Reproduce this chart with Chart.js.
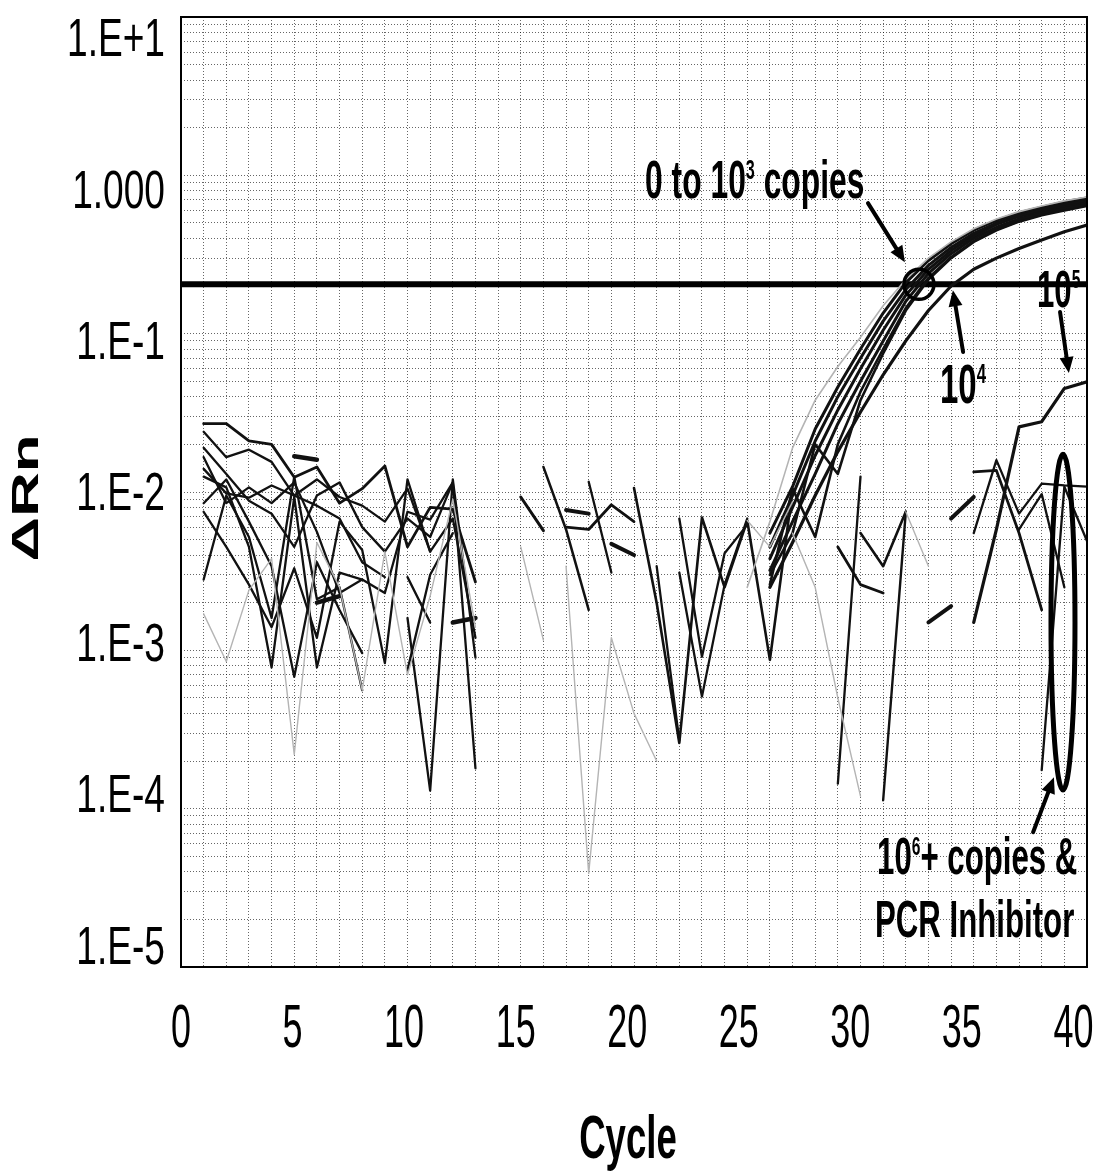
<!DOCTYPE html>
<html><head><meta charset="utf-8">
<script src="https://cdn.jsdelivr.net/npm/chart.js@4.4.1/dist/chart.umd.min.js"></script>
<style>html,body{margin:0;padding:0;background:#fff}#wrap{width:1099px;height:1174px;position:relative}</style>
</head><body><div id="wrap"><canvas id="c"></canvas></div>
<script>
const _ = null;
const cycles = [1,2,3,4,5,6,7,8,9,10,11,12,13,14,15,16,17,18,19,20,21,22,23,24,25,26,27,28,29,30,31,32,33,34,35,36,37,38,39,40];
const xTickValues = [0,5,10,15,20,25,30,35,40];
const xTickLabels = ['0','5','10','15','20','25','30','35','40'];
const yTickValues = [1e-5,1e-4,1e-3,1e-2,1e-1,1,10];
const yTickLabels = ['1.E-5','1.E-4','1.E-3','1.E-2','1.E-1','1.000','1.E+1'];
const threshold = 0.205;

// early background noise, cycles 1-13
const n1 = [0.027,0.027,0.021,0.020,0.0124,0.0144,0.0085,0.0105,0.0146,0.0045, 0.008,0.0078,0.0027,_,_,_,_,_,_,_, _,_,_,_,_,_,_,_,_,_, _,_,_,_,_,_,_,_,_,_];
const n2 = [0.024,0.0166,0.0185,0.0155,0.0095,0.012,0.0093,0.0082,0.0065,0.0105, 0.0042,0.0068,0.0012,_,_,_,_,_,_,_, _,_,_,_,_,_,_,_,_,_, _,_,_,_,_,_,_,_,_,_];
const n3 = [0.0166,0.0085,0.0107,0.0085,0.0115,0.0056,0.0023,0.0028,0.0023,0.0075, 0.0067,0.0115,0.00018,_,_,_,_,_,_,_, _,_,_,_,_,_,_,_,_,_, _,_,_,_,_,_,_,_,_,_];
const n4 = [0.0125,0.0107,0.0045,0.00078,0.0093,0.00078,0.0031,0.0028,_,_, _,_,_,_,_,_,_,_,_,_, _,_,_,_,_,_,_,_,_,_, _,_,_,_,_,_,_,_,_,_];
const n5 = [0.0085,0.012,0.0065,0.0034,0.00068,0.0036,0.0018,0.00096,_,0.0029, 0.0015,_,_,_,_,_,_,_,_,_, _,_,_,_,_,_,_,_,_,_, _,_,_,_,_,_,_,_,_,_];
const n6 = [0.0028,0.0095,0.0052,0.0016,0.0125,0.0021,0.0025,0.00056,_,0.00075, 0.003,0.0055,_,_,_,_,_,_,_,_, _,_,_,_,_,_,_,_,_,_, _,_,_,_,_,_,_,_,_,_];
const n7 = [0.0075,0.0045,0.0026,0.0014,0.0033,0.0012,0.0065,0.0043,0.00083,0.012, 0.0042,_,_,_,_,_,_,_,_,_, _,_,_,_,_,_,_,_,_,_, _,_,_,_,_,_,_,_,_,_];
const n8 = [0.014,0.0098,0.0092,0.011,0.0095,0.0082,0.0068,0.0036,0.0029,_, _,_,_,_,_,_,_,_,_,_, _,_,_,_,_,_,_,_,_,_, _,_,_,_,_,_,_,_,_,_];
const n9 = [0.019,0.013,0.0088,0.0073,0.0045,0.0095,0.0115,0.006,0.0042,0.0068, 0.0052,0.0115,_,_,_,_,_,_,_,_, _,_,_,_,_,_,_,_,_,_, _,_,_,_,_,_,_,_,_,_];
const n10 = [_,_,_,_,_,_,_,_,_,_, _,0.0015,0.0016,_,_,_,_,_,_,_, _,_,_,_,_,_,_,_,_,_, _,_,_,_,_,_,_,_,_,_];
const n11 = [_,_,_,_,_,_,_,_,_,0.0016, 0.00013,0.012,0.0009,_,_,_,_,_,_,_, _,_,_,_,_,_,_,_,_,_, _,_,_,_,_,_,_,_,_,_];
const n12 = [_,_,_,_,0.0168,0.016,_,_,_,_, _,_,_,_,_,_,_,_,_,_, _,_,_,_,_,_,_,_,_,_, _,_,_,_,_,_,_,_,_,_];
const n13 = [_,_,_,_,_,0.002,0.0022,_,_,_, _,_,_,_,_,_,_,_,_,_, _,_,_,_,_,_,_,_,_,_, _,_,_,_,_,_,_,_,_,_];

// middle background noise, cycles 15-27
const m1 = [_,_,_,_,_,_,_,_,_,_, _,_,_,_,0.0093,0.0057,_,_,_,_, _,_,_,_,_,_,_,_,_,_, _,_,_,_,_,_,_,_,_,_];
const m2 = [_,_,_,_,_,_,_,_,_,_, _,_,_,_,_,0.0144,0.0058,0.0018,_,_, _,_,_,_,_,_,_,_,_,_, _,_,_,_,_,_,_,_,_,_];
const m3 = [_,_,_,_,_,_,_,_,_,_, _,_,_,_,_,_,0.0077,0.0073,_,_, _,_,_,_,_,_,_,_,_,_, _,_,_,_,_,_,_,_,_,_];
const m4 = [_,_,_,_,_,_,_,_,_,_, _,_,_,_,_,_,0.006,0.0058,0.0083,0.0065, _,_,_,_,_,_,_,_,_,_, _,_,_,_,_,_,_,_,_,_];
const m5 = [_,_,_,_,_,_,_,_,_,_, _,_,_,_,_,_,_,0.0116,0.0031,_, _,_,_,_,_,_,_,_,_,_, _,_,_,_,_,_,_,_,_,_];
const m6 = [_,_,_,_,_,_,_,_,_,_, _,_,_,_,_,_,_,_,0.0047,0.004, _,_,_,_,_,_,_,_,_,_, _,_,_,_,_,_,_,_,_,_];
const m7 = [_,_,_,_,_,_,_,_,_,_, _,_,_,_,_,_,_,_,_,0.0106, 0.002,0.00026,0.0069,0.0025,0.0066,0.00087,0.0103,_,_,_, _,_,_,_,_,_,_,_,_,_];
const m8 = [_,_,_,_,_,_,_,_,_,_, _,_,_,_,_,_,_,_,_,_, 0.0034,0.00027,_,_,_,_,_,_,_,_, _,_,_,_,_,_,_,_,_,_];
const m9 = [_,_,_,_,_,_,_,_,_,_, _,_,_,_,_,_,_,_,_,_, _,0.0068,0.00091,0.0041,0.0062,_,_,_,_,_, _,_,_,_,_,_,_,_,_,_];
const m10 = [_,_,_,_,_,_,_,_,_,_, _,_,_,_,_,_,_,_,_,_, _,0.0031,0.00051,0.0026,0.0068,_,_,_,_,_, _,_,_,_,_,_,_,_,_,_];

// faint grey traces
const g1 = [0.0017,0.00085,0.0024,0.0038,0.00022,0.0048,0.0025,0.00056,0.0042,0.0007, 0.0022,0.009,0.0014,_,_,_,_,_,_,_, _,_,_,_,_,_,_,_,_,_, _,_,_,_,_,_,_,_,_,_];
const g2 = [_,_,_,_,_,_,_,_,_,_, _,_,_,_,0.0045,0.00116,_,_,_,_, _,_,_,_,_,_,_,_,_,_, _,_,_,_,_,_,_,_,_,_];
const g3 = [_,_,_,_,_,_,_,_,_,_, _,_,_,_,_,_,0.0034,0.000039,0.0012,0.0004, 0.0002,_,_,_,_,_,_,_,_,_, _,_,_,_,_,_,_,_,_,_];
const g4 = [_,_,_,_,_,_,_,_,_,_, _,_,_,_,_,_,_,_,_,_, _,_,_,_,0.0066,0.0045,0.0087,_,_,_, _,_,_,_,_,_,_,_,_,_];
const g5 = [_,_,_,_,_,_,_,_,_,_, _,_,_,_,_,_,_,_,_,_, _,_,_,_,_,_,0.0055,0.0025,0.0005,0.00012, _,_,_,_,_,_,_,_,_,_];
const g6 = [_,_,_,_,_,_,_,_,_,_, _,_,_,_,_,_,_,_,_,_, _,_,_,_,_,_,_,_,_,_, _,0.0075,0.0034,_,_,_,_,_,_,_];
const gAmp = [_,_,_,_,_,_,_,_,_,_, _,_,_,_,_,_,_,_,_,_, _,_,_,_,0.0025,0.0065,0.019,0.038,0.062,0.095, 0.15,0.22,0.30,0.38,0.46,0.53,0.59,0.64,0.69,0.73];

// late background noise, cycles 29-40
const l1 = [_,_,_,_,_,_,_,_,_,_, _,_,_,_,_,_,_,_,_,_, _,_,_,_,_,_,_,_,0.0045,0.0026, 0.0023,_,_,_,_,_,_,_,_,_];
const l2 = [_,_,_,_,_,_,_,_,_,_, _,_,_,_,_,_,_,_,_,_, _,_,_,_,_,_,_,_,_,0.0055, 0.0034,0.0075,_,_,_,_,_,_,_,_];
const l3 = [_,_,_,_,_,_,_,_,_,_, _,_,_,_,_,_,_,_,_,_, _,_,_,_,_,_,_,_,0.000144,0.0125, _,_,_,_,_,_,_,_,_,_];
const l4 = [_,_,_,_,_,_,_,_,_,_, _,_,_,_,_,_,_,_,_,_, _,_,_,_,_,_,_,_,_,_, 0.000113,0.0075,_,_,_,_,_,_,_,_];
const l5 = [_,_,_,_,_,_,_,_,_,_, _,_,_,_,_,_,_,_,_,_, _,_,_,_,_,_,_,_,_,_, _,_,0.0015,0.0019,_,_,_,_,_,_];
const l6 = [_,_,_,_,_,_,_,_,_,_, _,_,_,_,_,_,_,_,_,_, _,_,_,_,_,_,_,_,_,_, _,_,_,0.0068,0.0093,_,_,_,_,_];
const l7 = [_,_,_,_,_,_,_,_,_,_, _,_,_,_,_,_,_,_,_,_, _,_,_,_,_,_,_,_,_,_, _,_,_,_,0.0134,0.0137,0.0055,0.0018,_,_];
const l8 = [_,_,_,_,_,_,_,_,_,_, _,_,_,_,_,_,_,_,_,_, _,_,_,_,_,_,_,_,_,_, _,_,_,_,0.0055,0.0159,0.0073,0.0113,0.011,0.0108];
const l9 = [_,_,_,_,_,_,_,_,_,_, _,_,_,_,_,_,_,_,_,_, _,_,_,_,_,_,_,_,_,_, _,_,_,_,_,_,0.0058,0.0097,0.0025,_];
const l10 = [_,_,_,_,_,_,_,_,_,_, _,_,_,_,_,_,_,_,_,_, _,_,_,_,_,_,_,_,_,_, _,_,_,_,_,_,_,0.000175,0.0108,0.0049];

// amplification curves: 0 to 10^3 copies cluster, 10^4, 10^5
const a1 = [_,_,_,_,_,_,_,_,_,_, _,_,_,_,_,_,_,_,_,_, _,_,_,_,_,0.0055,0.0108,0.025,0.046,0.08, 0.135,0.21,0.29,0.37,0.45,0.52,0.58,0.63,0.68,0.72];
const a2 = [_,_,_,_,_,_,_,_,_,_, _,_,_,_,_,_,_,_,_,_, _,_,_,_,_,0.0045,0.0095,0.021,0.04,0.07, 0.12,0.19,0.27,0.35,0.43,0.50,0.56,0.61,0.66,0.70];
const a3 = [_,_,_,_,_,_,_,_,_,_, _,_,_,_,_,_,_,_,_,_, _,_,_,_,_,0.0038,0.008,0.017,0.033,0.06, 0.105,0.175,0.255,0.335,0.415,0.49,0.55,0.60,0.645,0.68];
const a4 = [_,_,_,_,_,_,_,_,_,_, _,_,_,_,_,_,_,_,_,_, _,_,_,_,_,0.0032,0.0065,0.013,0.027,0.05, 0.09,0.16,0.24,0.32,0.40,0.47,0.53,0.58,0.625,0.66];
const a5 = [_,_,_,_,_,_,_,_,_,_, _,_,_,_,_,_,_,_,_,_, _,_,_,_,_,0.0026,0.0105,0.0052,0.02,0.043, 0.08,0.145,0.225,0.305,0.385,0.455,0.515,0.565,0.61,0.65];
const a6 = [_,_,_,_,_,_,_,_,_,_, _,_,_,_,_,_,_,_,_,_, _,_,_,_,_,0.003,0.0055,0.02,0.013,0.038, 0.075,0.14,0.22,0.30,0.38,0.45,0.51,0.56,0.60,0.64];
const c1e4 = [_,_,_,_,_,_,_,_,_,_, _,_,_,_,_,_,_,_,_,_, _,_,_,_,_,0.0025,0.0048,0.0095,0.018,0.032, 0.055,0.09,0.14,0.20,0.255,0.30,0.345,0.39,0.44,0.485];
const c1e5 = [_,_,_,_,_,_,_,_,_,_, _,_,_,_,_,_,_,_,_,_, _,_,_,_,_,_,_,_,_,_, _,_,_,_,0.0015,0.0058,0.0258,0.0278,0.0451,0.0497];

const BLACK = '#111';
const GREY = '#b4b4b4';
const FAM = "'Liberation Sans', Arial, Helvetica, sans-serif";

function series(arr, color, width) {
  return {
    data: cycles.map((c, i) => ({x: c, y: arr[i]})),
    borderColor: color, borderWidth: width, pointRadius: 0, fill: false,
    spanGaps: false, tension: 0
  };
}

const datasets = [
  series(g1, GREY, 1.4), series(g2, GREY, 1.4), series(g3, GREY, 1.4),
  series(g4, GREY, 1.4), series(g5, GREY, 1.4), series(g6, GREY, 1.4),
  series(gAmp, GREY, 1.6),
  series(n1, BLACK, 2.8), series(n2, BLACK, 2.3), series(n3, BLACK, 2.3),
  series(n4, BLACK, 2.3), series(n5, BLACK, 2.3), series(n6, BLACK, 2.3),
  series(n7, BLACK, 2.3), series(n8, BLACK, 2.3), series(n9, BLACK, 2.3),
  series(n10, BLACK, 4.5), series(n11, BLACK, 2.3), series(n12, BLACK, 4.5), series(n13, BLACK, 4.5),
  series(m1, BLACK, 3), series(m2, BLACK, 2.5), series(m3, BLACK, 4),
  series(m4, BLACK, 2.8), series(m5, BLACK, 2.3), series(m6, BLACK, 4),
  series(m7, BLACK, 2.6), series(m8, BLACK, 2.3), series(m9, BLACK, 2.3), series(m10, BLACK, 2.3),
  series(l1, BLACK, 2.8), series(l2, BLACK, 2.6), series(l3, BLACK, 2.3), series(l4, BLACK, 2.4),
  series(l5, BLACK, 4), series(l6, BLACK, 4), series(l7, BLACK, 2.8), series(l8, BLACK, 2.3),
  series(l9, BLACK, 2.3), series(l10, BLACK, 2.3),
  series(a1, BLACK, 3), series(a2, BLACK, 3), series(a3, BLACK, 3),
  series(a4, BLACK, 3), series(a5, BLACK, 2.6), series(a6, BLACK, 2.6),
  series(c1e4, BLACK, 3.2), series(c1e5, BLACK, 3.2),
  {
    data: [{x: 0, y: threshold}, {x: 40, y: threshold}],
    borderColor: '#000', borderWidth: 6, pointRadius: 0, fill: false
  }
];

function drawRich(ctx, parts, x, y, size, weight, sx, align) {
  const fMain = weight + ' ' + size + 'px ' + FAM;
  const fSup = weight + ' ' + Math.round(size * 0.5) + 'px ' + FAM;
  let w = 0; const ws = [];
  parts.forEach(p => { ctx.font = p[1] ? fSup : fMain; const m = ctx.measureText(p[0]).width; ws.push(m); w += m; });
  ctx.save();
  ctx.translate(x, y); ctx.scale(sx, 1);
  let cx = align === 'center' ? -w / 2 : (align === 'right' ? -w : 0);
  ctx.textAlign = 'left'; ctx.textBaseline = 'alphabetic'; ctx.fillStyle = '#000';
  parts.forEach((p, i) => {
    ctx.font = p[1] ? fSup : fMain;
    ctx.fillText(p[0], cx, p[1] ? -size * 0.36 : 0);
    cx += ws[i];
  });
  ctx.restore();
}

function arrow(ctx, x1, y1, x2, y2) {
  const ang = Math.atan2(y2 - y1, x2 - x1);
  const head = 16, hw = 7;
  const bx = x2 - head * Math.cos(ang), by = y2 - head * Math.sin(ang);
  ctx.save();
  ctx.strokeStyle = '#000'; ctx.fillStyle = '#000'; ctx.lineWidth = 4; ctx.lineCap = 'round';
  ctx.beginPath(); ctx.moveTo(x1, y1); ctx.lineTo(bx, by); ctx.stroke();
  ctx.beginPath();
  ctx.moveTo(x2, y2);
  ctx.lineTo(bx + hw * Math.sin(ang), by - hw * Math.cos(ang));
  ctx.lineTo(bx - hw * Math.sin(ang), by + hw * Math.cos(ang));
  ctx.closePath(); ctx.fill();
  ctx.restore();
}

const decor = {
  id: 'decor',
  afterDatasetsDraw(chart) {
    const ctx = chart.ctx, a = chart.chartArea;
    const xs = chart.scales.x, ys = chart.scales.y;
    const X = v => xs.getPixelForValue(v), Y = v => ys.getPixelForValue(v);
    // frame
    ctx.save();
    ctx.strokeStyle = '#000'; ctx.lineWidth = 2;
    ctx.strokeRect(a.left, a.top, a.right - a.left, a.bottom - a.top);
    ctx.restore();
    // circle at threshold crossing
    ctx.save();
    ctx.strokeStyle = '#000'; ctx.lineWidth = 3.5;
    ctx.beginPath(); ctx.arc(X(32.58), Y(0.205), 15, 0, Math.PI * 2); ctx.stroke();
    // ellipse around 10^6+ traces
    const ecx = X(38.94), etop = Y(0.0173), ebot = Y(0.000131);
    ctx.lineWidth = 5;
    ctx.beginPath(); ctx.ellipse(ecx, (etop + ebot) / 2, 12, (ebot - etop) / 2, 0, 0, Math.PI * 2); ctx.stroke();
    ctx.restore();
    // arrows
    arrow(ctx, X(30.33), Y(0.668), X(31.96), Y(0.283));
    arrow(ctx, X(34.53), Y(0.0766), X(34.08), Y(0.188));
    arrow(ctx, X(38.81), Y(0.137), X(39.2), Y(0.0564));
    arrow(ctx, X(37.62), Y(7.1e-5), X(38.54), Y(1.58e-4));
    // annotation texts
    drawRich(ctx, [['0 to 10', false], ['3', true], [' copies', false]], X(20.49), Y(0.719), 53, 'bold', 0.6, 'left');
    drawRich(ctx, [['10', false], ['4', true]], X(33.51), Y(0.0365), 55, 'bold', 0.6, 'left');
    drawRich(ctx, [['10', false], ['5', true]], X(37.79), Y(0.147), 52, 'bold', 0.6, 'left');
    drawRich(ctx, [['10', false], ['6', true], ['+ copies &', false]], X(30.73), Y(3.86e-5), 52, 'bold', 0.6, 'left');
    drawRich(ctx, [['PCR Inhibitor', false]], X(30.64), Y(1.54e-5), 52, 'bold', 0.6, 'left');
  },
  afterDraw(chart) {
    const ctx = chart.ctx, a = chart.chartArea;
    const xs = chart.scales.x, ys = chart.scales.y;
    const midY = (a.top + a.bottom) / 2;
    // y tick labels
    yTickValues.forEach((v, i) => {
      const gy = ys.getPixelForValue(v);
      const cy = midY + (gy - midY) * 0.955;
      drawRich(ctx, [[yTickLabels[i], false]], a.left - 16, cy + 18, 53, 'normal', 0.7, 'right');
    });
    // x tick labels
    xTickValues.forEach((v, i) => {
      const gx = xs.getPixelForValue(v);
      const cx = a.left + (gx - a.left) * 0.985;
      drawRich(ctx, [[xTickLabels[i], false]], cx, a.bottom + 80, 62, 'normal', 0.58, 'center');
    });
    // axis titles
    drawRich(ctx, [['Cycle', false]], (a.left + a.right) / 2 - 6, a.bottom + 191, 62, 'bold', 0.59, 'center');
    ctx.save();
    ctx.translate(a.left - 153, midY + 6);
    ctx.rotate(-Math.PI / 2);
    ctx.scale(1, 0.6);
    ctx.font = 'bold 62px ' + FAM;
    ctx.fillStyle = '#000'; ctx.textAlign = 'center'; ctx.textBaseline = 'middle';
    ctx.fillText('\u0394Rn', 0, 0);
    ctx.restore();
  }
};

const gridOpts = {color: 'rgba(0,0,0,0.6)', lineWidth: 1, drawTicks: false};

new Chart(document.getElementById('c'), {
  type: 'line',
  data: {datasets},
  plugins: [decor],
  options: {
    responsive: true, maintainAspectRatio: false, animation: false,
    layout: {padding: {left: 181, right: 12, top: 17, bottom: 207}},
    plugins: {legend: {display: false}, tooltip: {enabled: false}},
    elements: {line: {borderJoinStyle: 'round', borderCapStyle: 'round'}},
    scales: {
      x: {
        type: 'linear', min: 0, max: 40,
        ticks: {display: false},
        afterBuildTicks: s => { const t = []; for (let k = 0; k <= 40; k++) t.push({value: k}); s.ticks = t; },
        grid: gridOpts, border: {display: false, dash: [1, 2]}
      },
      y: {
        type: 'logarithmic', min: 1e-5, max: 10,
        ticks: {display: false},
        afterBuildTicks: s => {
          const t = [];
          for (let e = -5; e <= 0; e++) for (let m = 1; m <= 9; m++) t.push({value: m * Math.pow(10, e)});
          t.push({value: 10});
          s.ticks = t;
        },
        grid: gridOpts, border: {display: false, dash: [1, 2]}
      }
    }
  }
});
</script>
</body></html>
